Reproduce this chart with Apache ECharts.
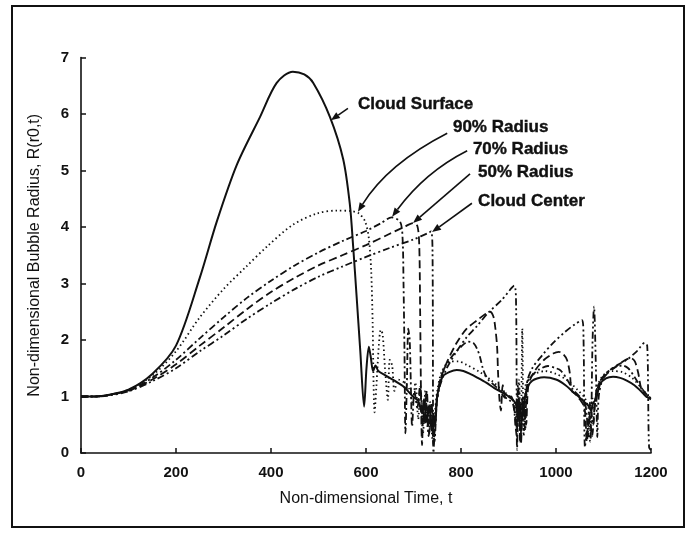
<!DOCTYPE html>
<html>
<head>
<meta charset="utf-8">
<script src="https://cdn.jsdelivr.net/npm/echarts@6/dist/echarts.min.js"></script>
<style>html,body{margin:0;padding:0;background:#fff}#c{width:691px;height:533px}</style>
</head>
<body>
<div id="c"></div>
<script>
const xTicks = [0, 200, 400, 600, 800, 1000, 1200];
const yTicks = [0, 1, 2, 3, 4, 5, 6, 7];

const cloudSurface = [[0,1],[30,1],[60,1.03],[100,1.12],[150,1.4],[200,1.9],[250,3.1],[286,4.1],[328,5.1],[377,5.95],[412,6.55],[446,6.75],[470,6.7],[489,6.55],[524,5.95],[552,5.2],[566,4.4],[573,3.65],[580,2.8],[588,1.8],[596,0.82],[601,1.5],[606,1.88],[610,1.7],[615,1.45],[620,1.55],[626,1.45],[640,1.38],[660,1.28],[680,1.17],[699,1.0],[710,0.92],[718,0.7],[722,0.95],[728,0.55],[733,0.85],[738,0.4],[742,0.7],[746,0.5],[749,0.95],[755,1.2],[762,1.36],[775,1.43],[791,1.47],[805,1.45],[819,1.4],[835,1.33],[854,1.24],[870,1.15],[889,1.06],[905,0.97],[915,0.88],[920,0.65],[924,0.9],[928,0.55],[932,0.85],[936,1.05],[942,1.2],[950,1.28],[960,1.32],[975,1.34],[1000,1.3],[1020,1.2],[1036,1.08],[1050,0.98],[1060,0.9],[1068,0.84],[1074,0.75],[1078,0.88],[1084,0.95],[1093,1.22],[1105,1.32],[1120,1.35],[1135,1.33],[1149,1.28],[1165,1.2],[1177,1.11],[1190,1.0],[1200,0.95]];

const radius90 = [[0,1],[30,1],[60,1.03],[100,1.12],[150,1.37],[200,1.8],[250,2.4],[300,2.9],[348,3.3],[391,3.65],[446,4.04],[497,4.24],[539,4.29],[570,4.28],[585,4.24],[598,4.1],[606,3.8],[611,3.2],[614,2.3],[616,1.2],[618,0.72],[622,1.2],[627,1.9],[631,2.18],[635,2.1],[640,1.5],[646,0.94],[650,1.65],[655,1.55],[660,1.1],[668,1.3],[680,1.25],[690,1.15],[698,0.9],[704,1.25],[710,0.6],[714,1.15],[720,0.35],[725,1.1],[730,0.45],[735,0.9],[740,0.25],[745,0.7],[750,1.1],[760,1.45],[777,1.62],[795,1.62],[812,1.56],[840,1.43],[865,1.28],[885,1.12],[900,1.02],[912,0.9],[918,0.5],[922,1.3],[926,0.4],[929,2.2],[932,0.3],[936,1.2],[942,1.3],[955,1.4],[977,1.45],[1000,1.4],[1025,1.28],[1045,1.12],[1060,0.98],[1068,0.8],[1072,0.4],[1076,1.0],[1080,0.8],[1088,1.2],[1100,1.38],[1120,1.45],[1140,1.43],[1160,1.33],[1180,1.15],[1195,1.0],[1200,0.98]];

const radius70 = [[0,1],[30,1],[60,1.03],[100,1.11],[150,1.33],[200,1.65],[250,2.03],[300,2.4],[350,2.75],[400,3.05],[450,3.32],[500,3.55],[550,3.75],[600,3.93],[630,4.06],[654,4.17],[672,4.09],[677,3.8],[679,3.0],[681,1.8],[683,0.35],[686,1.2],[689,2.2],[692,2.0],[695,1.0],[697,0.47],[702,1.1],[708,0.8],[714,1.2],[720,0.6],[726,1.0],[732,0.3],[738,0.8],[744,0.2],[749,0.9],[755,1.25],[765,1.5],[780,1.7],[800,1.88],[815,1.97],[826,1.95],[835,1.82],[840,1.7],[847,1.47],[857,1.3],[870,1.2],[882,1.1],[890,1.0],[900,0.95],[910,0.85],[916,0.4],[920,1.2],[925,0.2],[930,1.0],[935,0.6],[940,1.25],[950,1.38],[965,1.48],[983,1.54],[1000,1.5],[1010,1.46],[1025,1.28],[1036,1.12],[1050,1.0],[1062,0.85],[1068,0.3],[1072,0.9],[1078,0.5],[1085,1.1],[1095,1.3],[1110,1.45],[1125,1.52],[1140,1.55],[1152,1.5],[1165,1.35],[1180,1.15],[1195,1.0],[1200,0.97]];

const radius50 = [[0,1],[30,1],[60,1.03],[100,1.1],[150,1.3],[200,1.57],[250,1.9],[300,2.22],[350,2.55],[400,2.85],[450,3.1],[500,3.32],[550,3.5],[600,3.68],[650,3.88],[680,4.0],[699,4.07],[708,4.02],[712,3.7],[714,2.5],[716,0.9],[718,0.14],[721,0.9],[724,0.5],[728,1.1],[733,0.35],[738,0.9],[742,0.15],[746,0.6],[750,1.0],[757,1.3],[770,1.6],[791,1.95],[812,2.2],[834,2.35],[850,2.45],[861,2.5],[868,2.42],[872,2.23],[876,1.88],[878,1.42],[881,0.95],[884,0.75],[888,1.2],[895,0.95],[905,1.0],[912,0.8],[917,0.3],[921,1.1],[926,0.15],[931,0.9],[937,0.5],[942,1.2],[955,1.45],[975,1.65],[994,1.76],[1006,1.79],[1015,1.75],[1023,1.65],[1029,1.42],[1033,1.1],[1040,1.05],[1050,0.95],[1060,0.8],[1065,0.2],[1070,0.7],[1076,0.3],[1082,0.9],[1090,1.2],[1105,1.38],[1125,1.52],[1145,1.64],[1158,1.68],[1166,1.62],[1173,1.42],[1180,1.12],[1190,1.0],[1200,0.96]];

const cloudCenter = [[0,1],[30,1],[60,1.02],[100,1.09],[150,1.27],[200,1.5],[250,1.8],[300,2.08],[350,2.38],[400,2.65],[450,2.9],[500,3.12],[550,3.3],[600,3.47],[650,3.63],[700,3.78],[730,3.89],[737,3.92],[740,3.6],[742,0.0],[746,0.6],[750,0.95],[756,1.2],[770,1.5],[791,1.8],[812,2.05],[834,2.25],[857,2.48],[886,2.71],[912,2.96],[916,2.6],[918,0.05],[921,0.8],[925,0.2],[930,1.0],[935,0.4],[939,1.24],[950,1.5],[970,1.72],[994,1.95],[1020,2.15],[1040,2.28],[1055,2.35],[1058,2.0],[1061,0.1],[1066,0.4],[1072,0.2],[1077,2.0],[1080,2.59],[1084,1.5],[1087,0.28],[1090,1.0],[1100,1.35],[1114,1.47],[1130,1.56],[1149,1.65],[1170,1.8],[1187,1.95],[1192,1.9],[1194,1.0],[1196,0.1],[1200,0.05]];

const annLabels = ['Cloud Surface', '90% Radius', '70% Radius', '50% Radius', 'Cloud Center'];
const annTarget = [[526,5.89],[583,4.27],[655,4.18],[699,4.07],[739,3.91]];
const annTail   = [[562,6.1],[771,5.66],[813,5.35],[819,4.94],[823,4.42]];
const annCtrl   = [null,[646,5.12],[724,4.97],null,null];
const annText   = [[583,6.18],[783,5.77],[825,5.38],[836,4.97],[836,4.46]];

const chart = echarts.init(document.getElementById('c'), null, {renderer: 'canvas'});
const ink = '#111';
function mk(name, data, type, width) {
  return {
    name: name, type: 'line', data: data, symbol: 'none', smooth: 0.3,
    lineStyle: {color: ink, width: width, type: type}, animation: false
  };
}
const lblStyle = {color: ink, fontFamily: 'Liberation Sans, Arial, sans-serif', fontWeight: 'bold', fontSize: 15,
  formatter: function (v) { return String(v); }};
chart.setOption({
  backgroundColor: '#fff',
  animation: false,
  grid: {left: 81, right: 40, top: 57.5, bottom: 80, containLabel: false},
  xAxis: {
    type: 'value', min: xTicks[0], max: xTicks[xTicks.length - 1], interval: 200,
    name: 'Non-dimensional Time, t', nameLocation: 'middle', nameGap: 38,
    nameTextStyle: {color: ink, fontFamily: 'Liberation Sans, Arial, sans-serif', fontSize: 16},
    axisLine: {lineStyle: {color: ink, width: 1.6}},
    axisTick: {inside: true, length: 5, lineStyle: {color: ink, width: 1.5}},
    axisLabel: Object.assign({margin: 12}, lblStyle),
    splitLine: {show: false}
  },
  yAxis: {
    type: 'value', min: yTicks[0], max: yTicks[yTicks.length - 1], interval: 1,
    name: 'Non-dimensional Bubble Radius, R(r0,t)', nameLocation: 'middle', nameGap: 38,
    nameTextStyle: {color: ink, fontFamily: 'Liberation Sans, Arial, sans-serif', fontSize: 16},
    axisLine: {show: true, lineStyle: {color: ink, width: 1.6}},
    axisTick: {show: true, inside: true, length: 5, lineStyle: {color: ink, width: 1.5}},
    axisLabel: Object.assign({margin: 12}, lblStyle),
    splitLine: {show: false}
  },
  series: [
    mk('Cloud Surface', cloudSurface, 'solid', 2),
    mk('90% Radius', radius90, [1.5, 3], 1.8),
    mk('70% Radius', radius70, [7, 3, 2, 3], 1.8),
    mk('50% Radius', radius50, [8, 4], 1.8),
    mk('Cloud Center', cloudCenter, [7, 3, 2, 3, 2, 3], 1.8)
  ]
});

const els = [{
  type: 'rect', shape: {x: 12, y: 6, width: 672, height: 521},
  style: {fill: 'none', stroke: ink, lineWidth: 2}, silent: true
}];
for (let i = 0; i < annLabels.length; i++) {
  const h = chart.convertToPixel({gridIndex: 0}, annTarget[i]);
  const t = chart.convertToPixel({gridIndex: 0}, annTail[i]);
  const tp = chart.convertToPixel({gridIndex: 0}, annText[i]);
  let c = annCtrl[i] ? chart.convertToPixel({gridIndex: 0}, annCtrl[i]) : [(h[0] + t[0]) / 2, (h[1] + t[1]) / 2];
  const dx = h[0] - c[0], dy = h[1] - c[1];
  const L = Math.sqrt(dx * dx + dy * dy);
  const ux = dx / L, uy = dy / L;
  const len = 9, hw = 3.5;
  const bx = h[0] - ux * len, by = h[1] - uy * len;
  els.push({
    type: 'bezierCurve',
    shape: {x1: t[0], y1: t[1], x2: bx, y2: by, cpx1: c[0], cpy1: c[1]},
    style: {stroke: ink, lineWidth: 1.6, fill: 'none'}, silent: true
  });
  els.push({
    type: 'polygon',
    shape: {points: [[h[0], h[1]], [bx - uy * hw, by + ux * hw], [bx + uy * hw, by - ux * hw]]},
    style: {fill: ink}, silent: true
  });
  els.push({
    type: 'text', x: tp[0], y: tp[1],
    style: {text: annLabels[i], fill: ink, stroke: ink, lineWidth: 0.4, font: 'bold 17px "Liberation Sans", Arial, sans-serif', textVerticalAlign: 'middle', textAlign: 'left'},
    silent: true
  });
}
chart.setOption({graphic: {elements: els}});
</script>
</body>
</html>
